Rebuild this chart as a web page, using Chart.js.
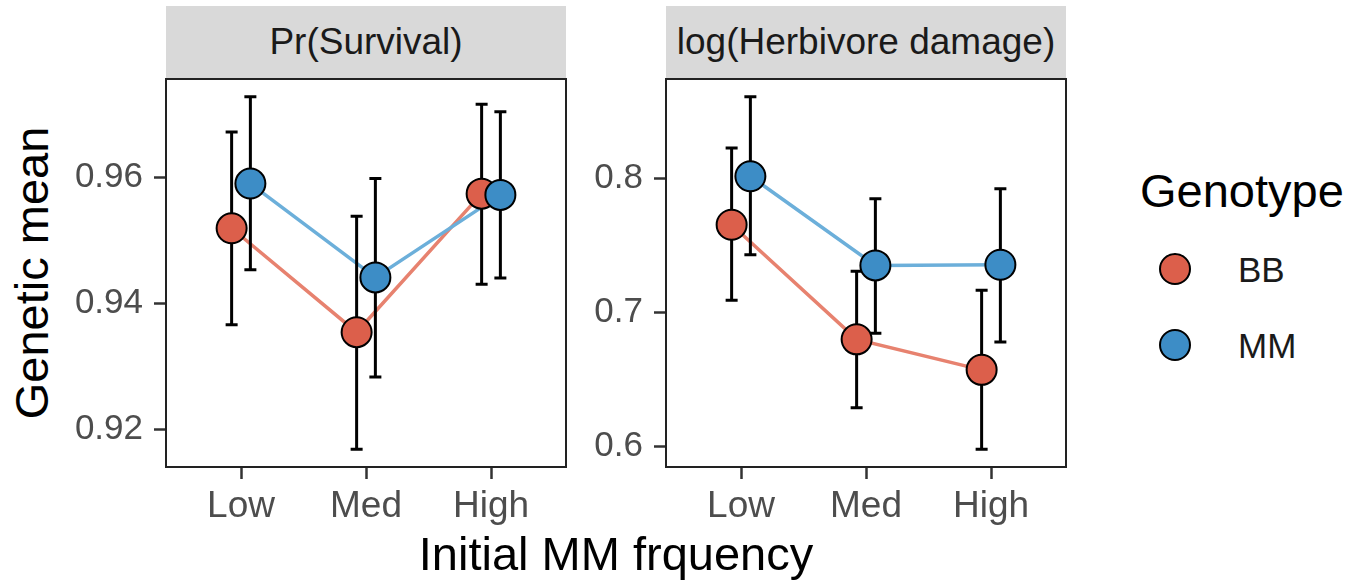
<!DOCTYPE html>
<html>
<head>
<meta charset="utf-8">
<script src="https://cdn.jsdelivr.net/npm/chart.js@4/dist/chart.umd.min.js"></script>
<style>
  body { margin: 0; background: #fff; font-family: "Liberation Sans", Arial, sans-serif; }
  #wrap { position: relative; width: 1363px; height: 582px; overflow: hidden; }
  canvas { position: absolute; }
  .strip {
    position: absolute; top: 6px; height: 72px; width: 400px;
    background: #d9d9d9; color: #1a1a1a; font-size: 37px;
    display: flex; align-items: center; justify-content: center;
  }
  .title { position: absolute; color: #000; font-size: 47px; white-space: nowrap; line-height: 1; }
  .key { position: absolute; width: 28px; height: 28px; border: 2px solid #000; border-radius: 50%; }
  .keylabel { position: absolute; font-size: 35px; color: #1a1a1a; line-height: 1; }
</style>
</head>
<body>
<div id="wrap">
  <div class="strip" style="left:166px">Pr(Survival)</div>
  <div class="strip" style="left:666px">log(Herbivore damage)</div>
  <canvas id="survival" width="520" height="461" style="left:60px; top:77px"></canvas>
  <canvas id="damage" width="510" height="461" style="left:570px; top:77px"></canvas>

  <div class="title" style="left:31px; top:273px; transform: translate(-50%, -50%) rotate(-90deg)">Genetic mean</div>
  <div class="title" style="left:616px; top:553px; transform: translate(-50%, -50%)">Initial MM frquency</div>

  <div class="title" style="left:1140px; top:190px; transform: translateY(-50%)">Genotype</div>
  <div class="key" id="keyBB" style="left:1159px; top:253px"></div>
  <div class="keylabel" style="left:1238px; top:269px; transform: translateY(-50%)">BB</div>
  <div class="key" id="keyMM" style="left:1159px; top:329px"></div>
  <div class="keylabel" style="left:1238px; top:345px; transform: translateY(-50%)">MM</div>
</div>
<script>
const FREQ_LEVELS = ["Low", "Med", "High"];

// Pr(Survival): genetic means with interval bounds
const survivalBB = [0.9519, 0.9354, 0.9574];
const survivalBBLower = [0.9366, 0.9168, 0.9430];
const survivalBBUpper = [0.9672, 0.9538, 0.9716];
const survivalMM = [0.9590, 0.9441, 0.9572];
const survivalMMLower = [0.9453, 0.9283, 0.9440];
const survivalMMUpper = [0.9728, 0.9598, 0.9704];
const survivalTicks = [0.92, 0.94, 0.96];

// log(Herbivore damage)
const damageBB = [0.7653, 0.6797, 0.6569];
const damageBBLower = [0.7089, 0.6285, 0.5975];
const damageBBUpper = [0.8226, 0.7305, 0.7164];
const damageMM = [0.8015, 0.7349, 0.7354];
const damageMMLower = [0.7429, 0.6842, 0.6777];
const damageMMUpper = [0.8610, 0.7847, 0.7921];
const damageTicks = [0.6, 0.7, 0.8];

const COLORS = {
    BB: { fill: "#dc5f4b", line: "#e7826f" },
    MM: { fill: "#3d8dc6", line: "#6cafda" }
};
const DODGE = 0.075;

document.getElementById("keyBB").style.background = COLORS.BB.fill;
document.getElementById("keyMM").style.background = COLORS.MM.fill;

// error bars go between the lines and the points
const errorBarPlugin = {
    id: "errorBars",
    beforeDatasetDraw(chart, args) {
        if (!chart.data.datasets[args.index].barsBefore) return;
        const { ctx, scales } = chart;
        ctx.save();
        ctx.strokeStyle = "#000";
        ctx.lineWidth = 3;
        chart.data.datasets.forEach(ds => {
            if (!ds.withBars) return;
            ds.data.forEach(d => {
                const x = scales.x.getPixelForValue(d.x);
                const yLo = scales.y.getPixelForValue(d.lo);
                const yHi = scales.y.getPixelForValue(d.hi);
                ctx.beginPath();
                ctx.moveTo(x, yLo);
                ctx.lineTo(x, yHi);
                ctx.moveTo(x - 6, yLo);
                ctx.lineTo(x + 6, yLo);
                ctx.moveTo(x - 6, yHi);
                ctx.lineTo(x + 6, yHi);
                ctx.stroke();
            });
        });
        ctx.restore();
    }
};

// panel border
const framePlugin = {
    id: "frame",
    afterDraw(chart) {
        const { ctx, chartArea } = chart;
        ctx.save();
        ctx.strokeStyle = "#222";
        ctx.lineWidth = 2;
        ctx.strokeRect(chartArea.left, chartArea.top,
            chartArea.right - chartArea.left, chartArea.bottom - chartArea.top);
        ctx.restore();
    }
};

function points(means, lower, upper, offset) {
    return means.map((m, i) => ({ x: i + 1 + offset, y: m, lo: lower[i], hi: upper[i] }));
}

function makePanel(id, series, ticks, decimals, yWidth) {
    const allLo = Math.min(...series.BB.lower, ...series.MM.lower);
    const allHi = Math.max(...series.BB.upper, ...series.MM.upper);
    const pad = (allHi - allLo) * 0.05;

    const bb = points(series.BB.mean, series.BB.lower, series.BB.upper, -DODGE);
    const mm = points(series.MM.mean, series.MM.lower, series.MM.upper, DODGE);

    const lineSet = (data, c) => ({
        data, showLine: true, borderColor: c.line, borderWidth: 3.5,
        pointRadius: 0, pointHoverRadius: 0, fill: false
    });
    const pointSet = (data, c, extra) => Object.assign({
        data, showLine: false, withBars: true,
        pointRadius: 15, pointHoverRadius: 15,
        pointBackgroundColor: c.fill, pointBorderColor: "#000", pointBorderWidth: 2
    }, extra);

    return new Chart(document.getElementById(id), {
        type: "scatter",
        data: {
            datasets: [
                pointSet(mm, COLORS.MM, {}),
                pointSet(bb, COLORS.BB, { barsBefore: true }),
                lineSet(mm, COLORS.MM),
                lineSet(bb, COLORS.BB)
            ]
        },
        options: {
            responsive: false,
            animation: false,
            events: [],
            layout: { autoPadding: false, padding: { top: 2, right: 14, left: 0, bottom: 0 } },
            plugins: { legend: { display: false }, tooltip: { enabled: false } },
            scales: {
                x: {
                    type: "linear",
                    min: 0.4,
                    max: 3.6,
                    afterBuildTicks: s => { s.ticks = FREQ_LEVELS.map((_, i) => ({ value: i + 1 })); },
                    afterFit: s => { s.height = 71; s.paddingLeft = 0; s.paddingRight = 0; },
                    border: { display: false },
                    grid: { drawOnChartArea: false, tickLength: 12, tickWidth: 2.5, tickColor: "#333" },
                    ticks: {
                        callback: (v, i) => FREQ_LEVELS[i],
                        autoSkip: false, maxRotation: 0,
                        padding: 6, color: "#4d4d4d",
                        font: { family: "Liberation Sans", size: 37 }
                    }
                },
                y: {
                    min: allLo - pad,
                    max: allHi + pad,
                    afterBuildTicks: s => { s.ticks = ticks.map(v => ({ value: v })); },
                    afterFit: s => { s.width = yWidth; s.paddingTop = 0; s.paddingBottom = 0; },
                    border: { display: false },
                    grid: { drawOnChartArea: false, tickLength: 12, tickWidth: 2.5, tickColor: "#333" },
                    ticks: {
                        callback: v => v.toFixed(decimals),
                        padding: 11, color: "#4d4d4d",
                        font: { family: "Liberation Sans", size: 35 }
                    }
                }
            }
        },
        plugins: [errorBarPlugin, framePlugin]
    });
}

makePanel("survival", {
    BB: { mean: survivalBB, lower: survivalBBLower, upper: survivalBBUpper },
    MM: { mean: survivalMM, lower: survivalMMLower, upper: survivalMMUpper }
}, survivalTicks, 2, 106);

makePanel("damage", {
    BB: { mean: damageBB, lower: damageBBLower, upper: damageBBUpper },
    MM: { mean: damageMM, lower: damageMMLower, upper: damageMMUpper }
}, damageTicks, 1, 96);
</script>
</body>
</html>
